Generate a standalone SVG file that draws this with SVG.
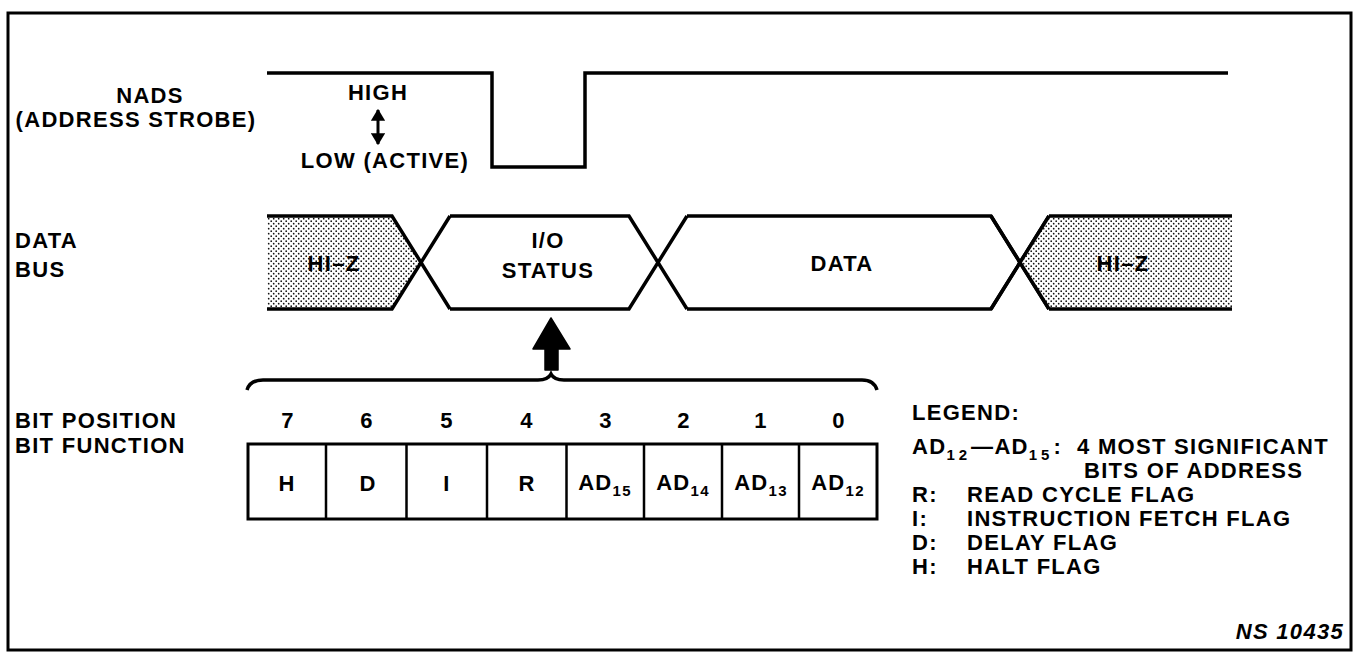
<svg xmlns="http://www.w3.org/2000/svg" width="1359" height="654" viewBox="0 0 1359 654">
<style>
.t{font-family:"Liberation Sans",Arial,sans-serif;font-weight:bold;font-size:22px;letter-spacing:1.3px;fill:#000}
.m{text-anchor:middle}
.ln{fill:none;stroke:#000;stroke-width:3.5;stroke-linejoin:miter}
.thin{fill:none;stroke:#000;stroke-width:2.5}
.sub{font-size:15px}
</style>
<defs>
<pattern id="dots" width="5" height="5" patternUnits="userSpaceOnUse">
<rect width="5" height="5" fill="#fff"/>
<circle cx="1.2" cy="1.2" r="0.85" fill="#111"/>
<circle cx="3.7" cy="3.7" r="0.85" fill="#111"/>
</pattern>
<marker id="ah" viewBox="0 0 10 12" refX="9" refY="6" markerWidth="4" markerHeight="4.8" markerUnits="strokeWidth" orient="auto-start-reverse">
<path d="M0,0 L10,6 L0,12 z" fill="#000"/>
</marker>
</defs>
<rect width="1359" height="654" fill="#fff"/>
<rect x="8" y="13" width="1343" height="637" fill="none" stroke="#000" stroke-width="3"/>

<g id="nads-label">
<text class="t m" x="150" y="103">NADS</text>
<text class="t m" x="136" y="127">(ADDRESS STROBE)</text>
<text class="t m" x="378" y="100">HIGH</text>
<text class="t m" x="385" y="168">LOW (ACTIVE)</text>
<line x1="378" y1="110" x2="378" y2="144" stroke="#000" stroke-width="3" marker-start="url(#ah)" marker-end="url(#ah)"/>
</g>

<g id="nads-wave">
<path class="ln" d="M267,73 H492 V167 H585 V73 H1228"/>
</g>

<g id="databus-label">
<text class="t" x="15" y="248">DATA</text>
<text class="t" x="15" y="277">BUS</text>
</g>

<g id="hiz-left">
<polygon points="267,216 392,216 421,262.5 392,309 267,309" fill="url(#dots)"/>
<path class="ln" d="M267,216 H392 L450,309 M267,309 H392 L450,216"/>
<text class="t m" x="334" y="271">HI–Z</text>
</g>

<g id="io-status">
<path class="ln" d="M450,216 H629 L687,309 M450,309 H629 L687,216"/>
<text class="t m" x="548" y="248">I/O</text>
<text class="t m" x="548" y="278">STATUS</text>
</g>

<g id="data">
<path class="ln" d="M687,216 H991 L1049,309 M687,309 H991 L1049,216"/>
<text class="t m" x="842" y="271">DATA</text>
</g>

<g id="hiz-right">
<polygon points="1020,262.5 1049,216 1232,216 1232,309 1049,309" fill="url(#dots)"/>
<path class="ln" d="M1049,216 H1232 M1049,309 H1232"/>
<path class="ln" d="M991,216 L1049,309 M991,309 L1049,216"/>
<text class="t m" x="1123" y="271">HI–Z</text>
</g>

<g id="connectors">
<polygon points="551,318 570,349 558,349 558,370 545,370 545,349 533,349" fill="#000" stroke="#000" stroke-width="1.5" stroke-linejoin="round"/>
<path class="ln" d="M247,390 Q250,380 263,380 H538 Q548,380 551,374 Q554,380 564,380 H862 Q874,380 877,390"/>
</g>

<g id="bit-labels">
<text class="t" x="15" y="428">BIT POSITION</text>
<text class="t" x="15" y="453">BIT FUNCTION</text>
</g>

<g id="bit-positions">
<text class="t m" x="288" y="428">7</text>
<text class="t m" x="367" y="428">6</text>
<text class="t m" x="447" y="428">5</text>
<text class="t m" x="527" y="428">4</text>
<text class="t m" x="606" y="428">3</text>
<text class="t m" x="684" y="428">2</text>
<text class="t m" x="761" y="428">1</text>
<text class="t m" x="839" y="428">0</text>
</g>

<g id="bit-function">
<rect x="248" y="444" width="629" height="75" fill="none" stroke="#000" stroke-width="3"/>
<path class="thin" d="M326,444 V519 M406.5,444 V519 M487,444 V519 M566.5,444 V519 M644,444 V519 M722,444 V519 M799,444 V519"/>
<text class="t m" x="287" y="491">H</text>
<text class="t m" x="368" y="491">D</text>
<text class="t m" x="447" y="491">I</text>
<text class="t m" x="527" y="491">R</text>
<text class="t m" x="605" y="490">AD<tspan class="sub" dy="6">15</tspan></text>
<text class="t m" x="683" y="490">AD<tspan class="sub" dy="6">14</tspan></text>
<text class="t m" x="761" y="490">AD<tspan class="sub" dy="6">13</tspan></text>
<text class="t m" x="838" y="490">AD<tspan class="sub" dy="6">12</tspan></text>
</g>

<g id="legend">
<text class="t" x="912" y="420">LEGEND:</text>
<text class="t" x="912" y="454">AD<tspan class="sub" dy="6" letter-spacing="4">12</tspan><tspan dy="-6">—AD</tspan><tspan class="sub" dy="6" letter-spacing="4">15</tspan><tspan dy="-6">:</tspan></text>
<text class="t" x="1077" y="454">4 MOST SIGNIFICANT</text>
<text class="t" x="1084" y="478">BITS OF ADDRESS</text>
<text class="t" x="912" y="502">R:</text>
<text class="t" x="967" y="502">READ CYCLE FLAG</text>
<text class="t" x="912" y="526">I:</text>
<text class="t" x="967" y="526">INSTRUCTION FETCH FLAG</text>
<text class="t" x="912" y="550">D:</text>
<text class="t" x="967" y="550">DELAY FLAG</text>
<text class="t" x="912" y="574">H:</text>
<text class="t" x="967" y="574">HALT FLAG</text>
<text class="t" x="1344" y="639" text-anchor="end" font-style="italic">NS 10435</text>
</g>
</svg>
